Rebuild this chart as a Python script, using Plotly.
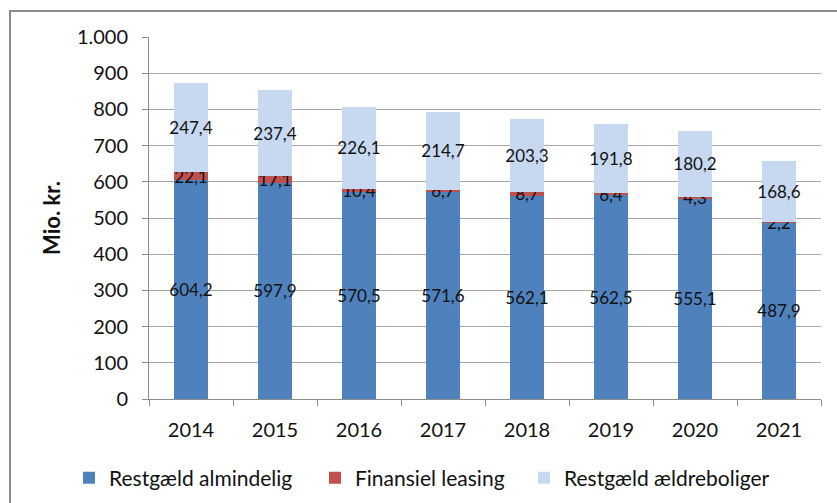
import plotly.graph_objects as go

years = ["2014", "2015", "2016", "2017", "2018", "2019", "2020", "2021"]
almindelig = [604.2, 597.9, 570.5, 571.6, 562.1, 562.5, 555.1, 487.9]
leasing = [22.1, 17.1, 10.4, 6.7, 8.7, 6.4, 4.3, 2.2]
aeldre = [247.4, 237.4, 226.1, 214.7, 203.3, 191.8, 180.2, 168.6]
y_ticks = [0, 100, 200, 300, 400, 500, 600, 700, 800, 900, 1000]

names = ["Restgæld almindelig", "Finansiel leasing", "Restgæld ældreboliger"]
colors = ["#4F81BD", "#C0504D", "#C6D9F1"]
legends = ["legend", "legend2", "legend3"]
FONT = "Lato"
TXT = "#111111"

fig = go.Figure()
for name, vals, col, lg in zip(names, [almindelig, leasing, aeldre], colors, legends):
    fig.add_trace(go.Bar(
        x=years, y=vals, name=name, legend=lg,
        marker=dict(color=col, line=dict(width=0)),
        texttemplate="%{y:.1f}", textposition="inside",
        insidetextanchor="middle", constraintext="none",
        textangle=0,
        textfont=dict(family=FONT, size=17, color=TXT),
        cliponaxis=False,
    ))

W, H = 837, 503
ml, mt, mr, mb = 149, 37, 16, 104
pw, ph = W - ml - mr, H - mt - mb
fx0 = (10 - ml) / pw
fy0 = 1 + (mt - 11) / ph
fig.add_shape(type="path", xref="paper", yref="paper",
              path=f"M {fx0},-1 L {fx0},{fy0} L 2,{fy0}",
              line=dict(color="#8c8c8c", width=2))

leg_y = ((H - mb) - 478) / ph
text_starts = [108, 354, 563]
leg_common = dict(orientation="h", xanchor="left", y=leg_y, yanchor="middle",
                  font=dict(family=FONT, size=21, color=TXT), itemwidth=30,
                  bgcolor="rgba(0,0,0,0)")

fig.update_layout(
    width=W, height=H,
    margin=dict(l=ml, r=mr, t=mt, b=mb, autoexpand=False),
    barmode="stack", bargap=0.6,
    separators=",.",
    paper_bgcolor="white", plot_bgcolor="white",
    font=dict(family=FONT, size=17, color=TXT),
    showlegend=True,
    legend=dict(x=(text_starts[0] - 39 - ml) / pw, **leg_common),
    legend2=dict(x=(text_starts[1] - 39 - ml) / pw, **leg_common),
    legend3=dict(x=(text_starts[2] - 39 - ml) / pw, **leg_common),
    uniformtext=dict(mode=False),
)
fig.update_xaxes(
    type="category", showline=True, linecolor="#8c8c8c", linewidth=1,
    ticks="outside", tickson="boundaries", ticklen=6, tickcolor="#8c8c8c",
    tickfont=dict(family=FONT, size=20, color=TXT), showgrid=False,
    ticklabelstandoff=13,
)
fig.update_yaxes(
    range=[0, 1000], tickvals=y_ticks, tickformat=",d",
    showline=True, linecolor="#8c8c8c", linewidth=1,
    ticks="outside", ticklen=6, tickcolor="#8c8c8c",
    showgrid=True, gridcolor="#a6a6a6", gridwidth=1,
    tickfont=dict(family=FONT, size=20, color=TXT),
    ticklabelstandoff=10,
    title=dict(text="<b>Mio. kr.</b>", font=dict(family=FONT, size=22, color=TXT), standoff=10),
    zeroline=False,
)

fig.write_html("out.html", config={"displayModeBar": False},
               post_script="document.body.style.margin='0';")
